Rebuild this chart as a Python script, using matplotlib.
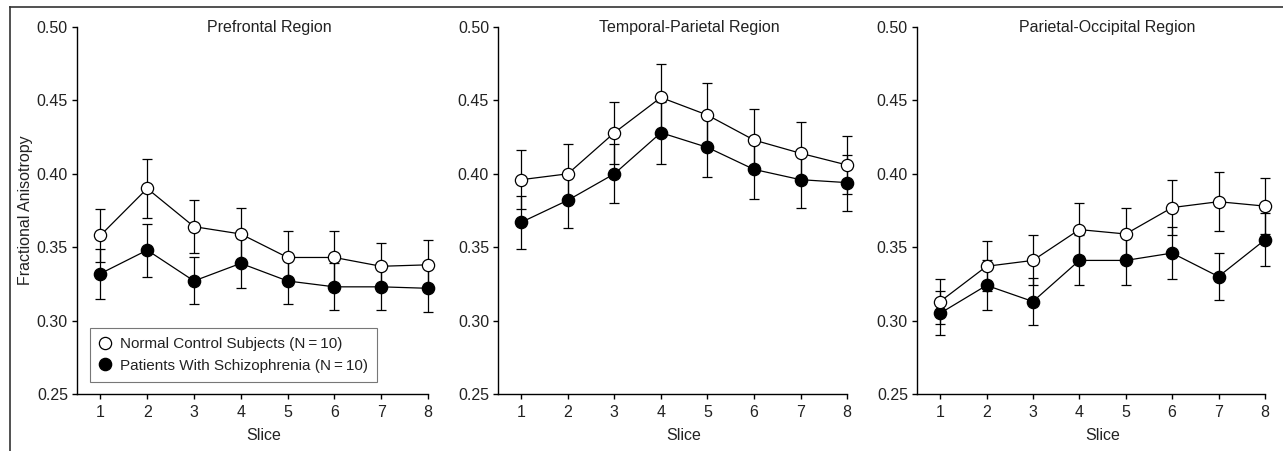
import matplotlib
matplotlib.use("Agg")
import matplotlib.pyplot as plt
import matplotlib.transforms as mtransforms
from matplotlib.lines import Line2D

plt.rcParams['font.family'] = ['Liberation Sans', 'DejaVu Sans']

slices = [1, 2, 3, 4, 5, 6, 7, 8]
regions = ['Prefrontal Region', 'Temporal-Parietal Region', 'Parietal-Occipital Region']

# Normal control subjects (open circles)
ctrl_prefrontal = [0.358, 0.390, 0.364, 0.359, 0.343, 0.343, 0.337, 0.338]
ctrl_prefrontal_err = [0.018, 0.020, 0.018, 0.018, 0.018, 0.018, 0.016, 0.017]
ctrl_temporal = [0.396, 0.400, 0.428, 0.452, 0.440, 0.423, 0.414, 0.406]
ctrl_temporal_err = [0.020, 0.020, 0.021, 0.023, 0.022, 0.021, 0.021, 0.020]
ctrl_parietal = [0.313, 0.337, 0.341, 0.362, 0.359, 0.377, 0.381, 0.378]
ctrl_parietal_err = [0.015, 0.017, 0.017, 0.018, 0.018, 0.019, 0.020, 0.019]

# Patients with schizophrenia (filled circles)
schz_prefrontal = [0.332, 0.348, 0.327, 0.339, 0.327, 0.323, 0.323, 0.322]
schz_prefrontal_err = [0.017, 0.018, 0.016, 0.017, 0.016, 0.016, 0.016, 0.016]
schz_temporal = [0.367, 0.382, 0.400, 0.428, 0.418, 0.403, 0.396, 0.394]
schz_temporal_err = [0.018, 0.019, 0.020, 0.021, 0.020, 0.020, 0.019, 0.019]
schz_parietal = [0.305, 0.324, 0.313, 0.341, 0.341, 0.346, 0.330, 0.355]
schz_parietal_err = [0.015, 0.017, 0.016, 0.017, 0.017, 0.018, 0.016, 0.018]

ctrl = [(ctrl_prefrontal, ctrl_prefrontal_err), (ctrl_temporal, ctrl_temporal_err),
        (ctrl_parietal, ctrl_parietal_err)]
schz = [(schz_prefrontal, schz_prefrontal_err), (schz_temporal, schz_temporal_err),
        (schz_parietal, schz_parietal_err)]

ylim = (0.25, 0.50)
yticks = [0.25, 0.30, 0.35, 0.40, 0.45, 0.50]
text_col = '#222222'
fs = 11.5

fig = plt.figure(figsize=(12.83, 4.51), dpi=100)

# axes positions in figure fractions
lefts = [0.060, 0.3882, 0.7147]
widths = [0.2736, 0.2720, 0.2712]
bottom, height = 0.1264, 0.8137


def no_clip(container):
    for art in container.get_children():
        art.set_clip_on(False)


for i in range(3):
    ax = fig.add_axes([lefts[i], bottom, widths[i], height])
    sv, se = schz[i]
    cv, ce = ctrl[i]
    eb1 = ax.errorbar(slices, sv, yerr=se, color='black', lw=0.9, elinewidth=0.9,
                      capsize=3.6, capthick=0.9, marker='o', ms=8.8, mfc='black',
                      mec='black', zorder=2)
    eb2 = ax.errorbar(slices, cv, yerr=ce, color='black', lw=0.9, elinewidth=0.9,
                      capsize=3.6, capthick=0.9, marker='o', ms=8.8, mfc='white',
                      mec='black', mew=0.9, zorder=3)
    no_clip(eb1)
    no_clip(eb2)

    ax.set_xlim(0.5, 8)
    ax.set_ylim(*ylim)
    ax.set_xticks(slices)
    ax.set_yticks(yticks)
    ax.set_yticklabels([f'{t:.2f}' for t in yticks])
    for s in ['top', 'right']:
        ax.spines[s].set_visible(False)
    for s in ['left', 'bottom']:
        ax.spines[s].set_linewidth(1.0)
    ax.tick_params(direction='out', length=3.5, width=1.0, labelsize=fs,
                   colors='black', labelcolor=text_col)
    ax.tick_params(axis='x', pad=4.5)
    ax.tick_params(axis='y', pad=3)

    trans = mtransforms.blended_transform_factory(ax.transData, ax.transAxes)
    ax.text(4.6, 1.0, regions[i], transform=trans, ha='center', va='center',
            fontsize=fs, color=text_col)
    ax.text(4.5, -0.112, 'Slice', transform=trans, ha='center', va='center',
            fontsize=fs, color=text_col)

    if i == 0:
        ax.text(-0.148, 0.5, 'Fractional Anisotropy', transform=ax.transAxes,
                rotation=90, ha='center', va='center', fontsize=fs, color=text_col)
        h_open = Line2D([], [], ls='none', marker='o', ms=8.8, mfc='white', mec='black', mew=0.9)
        h_fill = Line2D([], [], ls='none', marker='o', ms=8.8, mfc='black', mec='black')
        leg = ax.legend([h_open, h_fill],
                        ['Normal Control Subjects (N\u2009=\u200910)',
                         'Patients With Schizophrenia (N\u2009=\u200910)'],
                        loc='lower left', bbox_to_anchor=(0.037, 0.033),
                        fontsize=11, frameon=True, fancybox=False,
                        edgecolor='#555555', handlelength=0.8, handletextpad=0.55,
                        borderpad=0.6, labelspacing=0.5, borderaxespad=0)
        leg.get_frame().set_linewidth(0.8)
        for t in leg.get_texts():
            t.set_color(text_col)

# partial outer frame (left and top edges)
fig.add_artist(Line2D([10 / 1283, 10 / 1283], [0, 1 - 7 / 451], transform=fig.transFigure,
                      color='#333333', lw=1.2))
fig.add_artist(Line2D([10 / 1283, 1], [1 - 7 / 451, 1 - 7 / 451], transform=fig.transFigure,
                      color='#333333', lw=1.2))

plt.savefig('out.png', dpi=100)
